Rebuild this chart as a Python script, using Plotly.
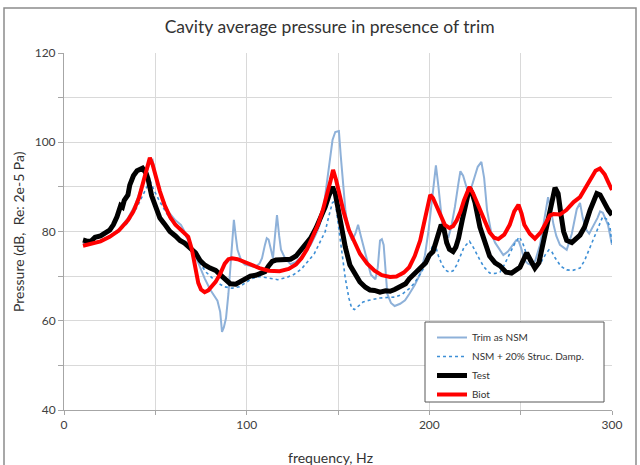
import plotly.graph_objects as go

# ---------------- data ----------------
test_f = [10.4, 13, 15, 17, 20, 23, 25, 27, 29, 31, 32, 33, 35, 36, 38, 40, 43, 45, 46, 48, 50, 52.5,
          55, 58, 61, 63.5, 66, 69, 72, 74.5, 77, 80, 83, 85, 88, 91, 94, 96, 99, 102, 105, 107, 110,
          112, 114, 116, 118, 121, 124, 127, 129, 132, 135, 138, 140, 143, 145, 147, 148.5, 150, 152,
          154, 156.5, 159, 162, 165, 167.5, 170, 173, 176, 178.5, 181, 184, 187, 189, 192, 195, 198,
          200, 202, 203.5, 205, 206.5, 208, 209.5, 211, 213, 214.5, 216, 218, 220, 222, 223.5, 225,
          227.7, 230, 233, 236, 238.7, 242, 245, 249.6, 251.5, 253.3, 255.5, 257.8, 260, 262, 264.2,
          266, 268.8, 270.5, 272, 273.5, 275.2, 278, 282.5, 285, 288, 291.7, 293.5, 296, 298, 300]
test_db = [78.1, 77.8, 77.9, 78.7, 79.0, 79.6, 80.3, 81.5, 83.3, 85.8, 85.5, 87.0, 88.2, 90.4, 92.5,
           93.6, 94.2, 93.0, 91.8, 88.0, 86.0, 83.0, 81.7, 80.0, 79.0, 78.0, 77.4, 76.3, 75.2, 73.5,
           72.5, 71.8, 71.3, 70.5, 69.5, 68.3, 68.2, 68.6, 69.4, 70.0, 70.2, 70.5, 71.0, 72.3, 73.3,
           73.6, 73.7, 73.6, 73.8, 74.5, 75.4, 76.8, 78.5, 80.8, 82.6, 85.5, 88.0, 90.0, 88.5, 85.0,
           80.3, 76.5, 72.5, 70.5, 68.7, 67.5, 66.9, 66.8, 66.4, 66.7, 66.6, 67.0, 67.6, 68.3, 69.4,
           70.5, 71.8, 73.0, 74.7, 75.5, 77.5, 79.5, 81.5, 80.5, 77.5, 76.0, 75.5, 76.5, 78.5, 82.5,
           86.5, 89.8, 88.5, 86.5, 81.0, 78.0, 74.5, 73.0, 72.3, 70.9, 70.7, 72.0, 73.5, 75.2, 73.5,
           71.8, 73.0, 76.5, 80.3, 84.5, 89.8, 88.5, 84.0, 80.0, 78.0, 77.5, 79.2, 81.0, 84.8, 88.5,
           88.2, 86.0, 84.8, 83.7]

biot_f = [10.4, 15, 20, 25, 30, 35, 38, 41, 43.5, 45.5, 47, 48.5, 50, 52.5, 55, 58, 61, 64, 66.5, 68,
          70, 72, 73.5, 75, 77, 79, 81, 83, 85.5, 88, 90, 92, 95, 99, 103, 107, 112, 118, 123, 127,
          130, 133, 136, 139, 141.5, 144, 146, 147.3, 149, 151, 153, 156, 159, 162, 166, 170, 174,
          178.5, 182, 186, 189, 192, 195, 197.5, 199, 200.5, 202, 204, 206, 208.5, 211, 213, 215, 217,
          219, 222, 224, 226, 228, 230, 233, 235.5, 237.8, 241, 244, 246.5, 248.8, 250.5, 252, 255,
          257.8, 261, 264, 266, 268, 271.5, 275, 279, 282.5, 286, 289, 291, 293.4, 296, 298, 300]
biot_db = [76.8, 77.2, 77.8, 78.8, 80.2, 82.5, 84.5, 87.5, 91.0, 94.5, 96.5, 95.0, 92.7, 89.0, 86.0,
           83.3, 81.5, 80.3, 79.5, 78.8, 76.0, 71.8, 68.5, 67.0, 66.4, 66.8, 67.8, 68.7, 70.5, 72.8,
           73.8, 74.0, 73.8, 73.1, 72.4, 71.8, 71.2, 71.1, 71.6, 72.6, 74.0, 76.0, 78.7, 81.5, 84.5,
           88.0, 91.5, 93.8, 91.5, 88.0, 84.5, 80.3, 77.5, 75.0, 72.8, 71.2, 70.2, 69.8, 69.9, 70.8,
           72.0, 74.5, 78.0, 82.5, 86.0, 88.2, 87.5, 85.5, 83.5, 81.5, 80.8, 81.2, 82.5, 84.4, 87.0,
           90.0, 88.5, 86.5, 85.0, 82.5, 79.8, 78.6, 78.3, 79.3, 81.5, 84.5, 86.0, 84.0, 81.5, 79.5,
           78.4, 79.8, 82.3, 83.6, 83.9, 83.8, 84.8, 86.6, 87.7, 90.0, 92.3, 93.6, 94.1, 92.8, 91.0,
           89.3]

nsm_f = [10.4, 15, 20, 25, 30, 35, 39, 42, 45, 47, 48.5, 50, 53, 57, 61, 64, 66, 69, 72, 75, 77,
         80, 82, 84, 85.5, 86.5, 87.5, 88.7, 90, 91, 92, 93, 94, 95, 97, 99, 102, 104.6, 107, 108.4,
         110, 111, 112, 112.8, 114.4, 115.5, 116.6, 117.8, 118.8, 121, 124, 127, 129, 132, 135, 138,
         140, 142, 144, 145.5, 147, 148.5, 150.5, 151.5, 152.5, 154, 155.5, 157.7, 159.5, 161, 162.5,
         163.7, 166, 168, 170.5, 171.8, 173, 174, 175, 176, 177, 179, 181, 184, 186.7, 189, 192, 195,
         197.6, 199.5, 201.5, 203.6, 205, 206, 207, 208.5, 210.5, 212, 214, 216, 217, 218.5, 219.5,
         221, 222, 223.5, 225, 226.5, 228.5, 230, 231.6, 234, 236, 239, 240.5, 243, 245.5, 247.5, 249,
         250.5, 252, 254, 256, 258, 260.6, 262.5, 265, 266.5, 268, 269.5, 271.5, 275.2, 278, 280.7,
         282.5, 284, 286, 287.5, 289.6, 292, 293.5, 295, 297.8, 300]
nsm_db = [77.0, 77.4, 77.9, 79.0, 80.5, 83.0, 86.0, 89.5, 93.0, 95.5, 96.0, 93.0, 88.5, 84.5, 82.5,
          81.5, 80.0, 77.0, 74.5, 71.5, 69.5, 67.0, 65.8, 64.5, 62.0, 57.5, 58.5, 60.6, 66.0, 71.5,
          78.0, 82.6, 79.0, 75.9, 73.5, 72.6, 72.3, 72.0, 72.8, 74.0, 77.0, 78.5, 78.2, 77.0, 74.0,
          79.0, 83.7, 79.0, 75.9, 74.0, 72.7, 73.2, 74.0, 75.5, 77.0, 79.5, 81.5, 85.0, 91.0, 96.0,
          100.5, 102.3, 102.5, 97.0, 91.5, 85.0, 80.3, 78.0, 79.5, 81.5, 79.0, 77.0, 73.0, 70.3, 69.3,
          72.0, 78.0, 78.3, 77.0, 72.0, 66.0, 64.0, 63.3, 63.8, 64.6, 66.0, 68.0, 70.5, 74.7, 80.0,
          87.0, 94.8, 90.0, 86.0, 82.0, 79.2, 78.8, 81.0, 85.5, 91.0, 93.5, 92.5, 91.0, 89.0, 88.5,
          90.5, 92.5, 94.5, 95.6, 92.0, 84.8, 79.5, 77.5, 75.5, 74.7, 75.5, 77.0, 78.0, 77.8, 76.0,
          73.6, 72.8, 72.5, 73.5, 77.0, 82.0, 87.7, 85.0, 81.5, 79.0, 77.0, 75.9, 79.5, 85.0, 86.4,
          83.0, 80.3, 79.5, 81.0, 83.0, 84.5, 84.2, 81.5, 77.0]

damp_f = [10.4, 15, 20, 25, 30, 35, 40, 43, 46, 47.5, 49, 52, 55, 58, 62, 66, 69, 72, 75, 78, 81,
          84, 88, 92, 96, 99, 103, 107, 112, 117, 122, 126, 130, 134, 137, 140, 143, 145, 147, 148.5,
          150, 152, 154, 156, 157.5, 159, 161, 163.7, 167, 170, 173, 177, 181, 185, 189, 192, 195, 198,
          200, 201.5, 203, 205, 207, 209, 211, 213, 215, 217, 219, 222, 224, 227.7, 230, 233, 236,
          238.7, 241, 244.2, 247, 249.3, 251.5, 254.2, 256.5, 258.8, 261, 263.5, 265.5, 267, 269,
          272, 275.2, 278.5, 282.5, 285, 287.5, 289.8, 292, 294.9, 297, 298.9, 300]
damp_db = [77.2, 77.4, 77.9, 78.7, 80.0, 82.0, 85.5, 88.0, 90.5, 91.0, 89.5, 87.0, 85.0, 82.8, 81.0,
           79.5, 77.2, 74.7, 72.5, 70.8, 69.6, 68.5, 67.6, 67.3, 67.6, 68.5, 69.5, 69.9, 69.6, 69.2,
           69.7, 70.4, 71.6, 73.4, 75.0, 77.5, 80.0, 83.5, 86.5, 86.8, 82.0, 75.5, 69.5, 65.0, 62.8,
           62.5, 63.3, 64.2, 64.6, 64.9, 65.1, 65.2, 65.3, 65.9, 67.2, 68.5, 70.5, 72.5, 74.5, 76.5,
           77.3, 74.5, 72.5, 71.3, 70.9, 71.2, 72.5, 74.5, 76.5, 77.8, 76.5, 73.6, 72.0, 70.7, 70.6,
           70.9, 72.5, 75.2, 77.5, 78.8, 77.0, 73.6, 72.3, 72.0, 73.0, 74.8, 75.9, 75.5, 74.0, 72.2,
           71.4, 71.3, 71.8, 73.5, 76.0, 78.0, 80.5, 83.3, 82.8, 81.0, 77.0]

x_ticks = [0, 100, 200, 300]
y_ticks = [40, 60, 80, 100, 120]

FONT = "Lato, 'Open Sans', sans-serif"

fig = go.Figure()
fig.add_trace(go.Scatter(x=nsm_f, y=nsm_db, mode="lines", name="Trim as NSM",
                         line=dict(color="#8eb1d9", width=2)))
fig.add_trace(go.Scatter(x=damp_f, y=damp_db, mode="lines", name="NSM + 20% Struc. Damp.",
                         line=dict(color="#3d8fd6", width=1.6, dash="dot")))
fig.add_trace(go.Scatter(x=test_f, y=test_db, mode="lines", name="Test",
                         line=dict(color="#000000", width=5)))
fig.add_trace(go.Scatter(x=biot_f, y=biot_db, mode="lines", name="Biot",
                         line=dict(color="#ff0000", width=4)))

l, r, t, b = 64, 28, 53, 55
W, H = 640, 465
pw, ph = W - l - r, H - t - b


def px(xpix):
    return (xpix - l) / pw


def py(ypix):
    return (ph - (ypix - t)) / ph


# outer chart frame
fig.add_shape(type="rect", xref="paper", yref="paper",
              x0=px(4), x1=px(636), y0=py(470), y1=py(8),
              line=dict(color="#8c8c8c", width=1.5), fillcolor="rgba(0,0,0,0)", layer="below")
# legend box
fig.add_shape(type="rect", xref="paper", yref="paper",
              x0=px(425), x1=px(604), y0=py(402), y1=py(322),
              line=dict(color="#595959", width=1), fillcolor="white", layer="above")

# axis titles
fig.add_annotation(text="frequency, Hz", xref="paper", yref="paper", x=px(330), y=py(457),
                   xanchor="center", yanchor="middle", showarrow=False,
                   font=dict(size=14, color="#333333"))
fig.add_annotation(text="Pressure (dB,  Re: 2e-5 Pa)", xref="paper", yref="paper",
                   x=px(18), y=py(232), xanchor="center", yanchor="middle", textangle=-90,
                   showarrow=False, font=dict(size=14, color="#333333"))

fig.update_layout(
    width=W, height=H,
    margin=dict(l=l, r=r, t=t, b=b),
    paper_bgcolor="white", plot_bgcolor="white",
    font=dict(family=FONT, color="#404040", size=12),
    title=dict(text="Cavity average pressure in presence of trim", x=0.515, xanchor="center",
               y=1 - 27 / H, yanchor="middle", font=dict(size=17.5, color="#333333")),
    showlegend=True,
    legend=dict(x=px(432), y=py(323), xanchor="left", yanchor="top",
                bgcolor="rgba(0,0,0,0)", borderwidth=0,
                font=dict(size=10, color="#333333"), itemwidth=30,
                tracegroupgap=0),
)
fig.update_xaxes(range=[0, 300], tickvals=x_ticks, ticktext=[str(v) for v in x_ticks],
                 showgrid=True, gridcolor="#d9d9d9", gridwidth=1,
                 showline=True, linecolor="#a6a6a6", linewidth=1,
                 ticks="outside", ticklen=4, tickcolor="#a6a6a6",
                 minor=dict(tickvals=[50, 150, 250], showgrid=True, gridcolor="#d9d9d9",
                            ticks="outside", ticklen=4, tickcolor="#a6a6a6"),
                 zeroline=False, tickfont=dict(size=12, color="#404040"), automargin=False)
fig.update_yaxes(range=[40, 120], tickvals=y_ticks, ticktext=[str(v) for v in y_ticks],
                 showgrid=True, gridcolor="#d9d9d9", gridwidth=1,
                 showline=True, linecolor="#a6a6a6", linewidth=1,
                 ticks="outside", ticklen=5, tickcolor="#a6a6a6",
                 minor=dict(tickvals=[50, 70, 90, 110], showgrid=True, gridcolor="#d9d9d9",
                            ticks="outside", ticklen=5, tickcolor="#a6a6a6"),
                 zeroline=False, tickfont=dict(size=12, color="#404040"), automargin=False)

fig.write_html("out.html")
